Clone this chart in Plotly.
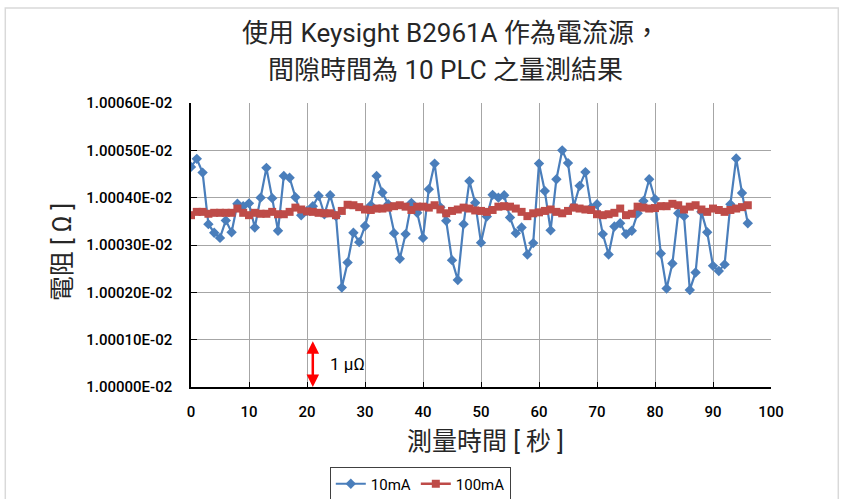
import plotly.graph_objects as go

# Measurement time [s]
time_s = list(range(97))

# Resistance, 10 mA source current (micro-ohm above 10 milliohm)
r_10ma_uohm_offset = [
    4.65, 4.82, 4.53, 3.44, 3.26, 3.15, 3.52, 3.27, 3.87, 3.82,
    3.88, 3.37, 4.00, 4.63, 3.99, 3.30, 4.46, 4.42, 4.01, 3.63,
    3.72, 3.82, 4.04, 3.65, 4.05, 3.61, 2.10, 2.63, 3.26, 3.06,
    3.40, 3.84, 4.46, 4.11, 3.86, 3.25, 2.71, 3.23, 3.89, 3.68,
    3.15, 4.18, 4.72, 3.80, 3.51, 2.68, 2.26, 3.44, 4.35, 3.89,
    3.05, 3.60, 4.06, 4.00, 4.05, 3.58, 3.25, 3.37, 2.80, 3.04,
    4.72, 4.14, 3.31, 4.39, 5.00, 4.73, 3.82, 4.25, 4.54, 3.79,
    3.86, 3.23, 2.80, 3.39, 3.46, 3.23, 3.30, 3.67, 3.93, 4.39,
    3.97, 2.82, 2.08, 2.61, 3.67, 3.61, 2.05, 2.42, 3.70, 3.27,
    2.56, 2.45, 2.59, 3.86, 4.83, 4.10, 3.46,
]

# Resistance, 100 mA source current (micro-ohm above 10 milliohm)
r_100ma_uohm_offset = [
    3.63, 3.70, 3.70, 3.66, 3.68, 3.68, 3.68, 3.68, 3.77, 3.68,
    3.63, 3.68, 3.66, 3.66, 3.70, 3.65, 3.65, 3.70, 3.79, 3.75,
    3.71, 3.70, 3.68, 3.67, 3.67, 3.63, 3.72, 3.85, 3.84, 3.80,
    3.75, 3.74, 3.77, 3.77, 3.79, 3.82, 3.84, 3.81, 3.74, 3.81,
    3.81, 3.79, 3.84, 3.75, 3.67, 3.72, 3.75, 3.79, 3.77, 3.73,
    3.72, 3.70, 3.74, 3.81, 3.82, 3.81, 3.77, 3.70, 3.61, 3.67,
    3.69, 3.72, 3.75, 3.70, 3.67, 3.72, 3.79, 3.77, 3.75, 3.74,
    3.65, 3.63, 3.65, 3.68, 3.77, 3.63, 3.66, 3.81, 3.79, 3.77,
    3.78, 3.82, 3.82, 3.87, 3.84, 3.75, 3.81, 3.84, 3.75, 3.70,
    3.77, 3.74, 3.70, 3.74, 3.77, 3.80, 3.84,
]

BASE_OHM = 1.0e-2
UOHM = 1.0e-6
r_10ma = [BASE_OHM + v * UOHM for v in r_10ma_uohm_offset]
r_100ma = [BASE_OHM + v * UOHM for v in r_100ma_uohm_offset]

y_ticks = [BASE_OHM + k * UOHM for k in range(7)]
y_tick_text = [f"{v:.5E}" for v in y_ticks]
x_ticks = list(range(0, 101, 10))

FONT = "Roboto, Noto Sans CJK TC, sans-serif"
BLUE = "#4A7EBB"
RED = "#BE4B48"

fig = go.Figure()
fig.add_trace(go.Scatter(
    x=time_s, y=r_10ma, name="10mA", mode="lines+markers",
    line=dict(color=BLUE, width=2.2),
    marker=dict(symbol="diamond", size=8, color=BLUE),
))
fig.add_trace(go.Scatter(
    x=time_s, y=r_100ma, name="100mA", mode="lines+markers",
    line=dict(color=RED, width=2.5),
    marker=dict(symbol="square", size=8, color=RED),
))

# plot-area edges in pixels
PL, PR, PT, PB = 190.7, 770.7, 103.0, 387.0
pw, ph = PR - PL, PB - PT


def px_x(p):
    return (p - PL) / pw


def px_y(p):
    return (PB - p) / ph


annotations = [
    dict(text="使用 Keysight B2961A 作為電流源，", xref="paper", yref="paper",
         x=px_x(451), y=px_y(33), xanchor="center", yanchor="middle",
         showarrow=False, font=dict(size=26, color="#262626", family=FONT)),
    dict(text="間隙時間為 10 PLC 之量測結果", xref="paper", yref="paper",
         x=px_x(445), y=px_y(70), xanchor="center", yanchor="middle",
         showarrow=False, font=dict(size=26, color="#262626", family=FONT)),
    dict(text="電阻 [ Ω ]", xref="paper", yref="paper",
         x=px_x(62), y=px_y(252), xanchor="center", yanchor="middle",
         textangle=-90, showarrow=False,
         font=dict(size=25, color="#262626", family=FONT)),
    dict(text="測量時間 [ 秒 ]", xref="paper", yref="paper",
         x=px_x(485), y=px_y(441), xanchor="center", yanchor="middle",
         showarrow=False, font=dict(size=25, color="#262626", family=FONT)),
    # 1 micro-ohm scale marker
    dict(x=21, y=BASE_OHM, ax=21, ay=BASE_OHM + UOHM, xref="x", yref="y",
         axref="x", ayref="y", text="", showarrow=True,
         arrowhead=2, startarrowhead=2, arrowside="end+start",
         arrowsize=1.0, startarrowsize=1.0, arrowwidth=2.5, arrowcolor="#FF0000"),
    dict(text="1 μΩ", x=23.6, y=BASE_OHM + 0.48 * UOHM, xref="x", yref="y",
         xanchor="left", yanchor="middle", showarrow=False,
         font=dict(size=17, color="#000000", family=FONT)),
]

fig.update_layout(
    width=852, height=499,
    margin=dict(l=PL, r=852 - PR, t=PT, b=499 - PB, autoexpand=False),
    paper_bgcolor="white", plot_bgcolor="white",
    font=dict(family=FONT, color="#000000"),
    showlegend=True,
    legend=dict(
        orientation="h", x=px_x(420), y=px_y(484),
        xanchor="center", yanchor="middle",
        bordercolor="#404040", borderwidth=1, bgcolor="white",
        font=dict(size=15, family=FONT), itemwidth=30,
        tracegroupgap=0,
    ),
    annotations=annotations,
    shapes=[
        dict(type="rect", xref="paper", yref="paper",
             x0=px_x(5), x1=px_x(838), y0=px_y(520), y1=px_y(8),
             line=dict(color="#D9D9D9", width=1.5), layer="below"),
    ],
)

fig.update_xaxes(
    range=[0, 100], tickvals=x_ticks, ticks="inside", ticklen=5,
    tickcolor="#000000", showline=True, linecolor="#000000", linewidth=1.5,
    showgrid=True, gridcolor="#A6A6A6", gridwidth=1.2, zeroline=False,
    tickfont=dict(size=15, family=FONT, color="#000000", weight=500),
    ticklabelstandoff=10,
)
fig.update_yaxes(
    range=[BASE_OHM, BASE_OHM + 6 * UOHM], tickvals=y_ticks, ticktext=y_tick_text,
    ticks="inside", ticklen=6, tickcolor="#000000",
    showline=True, linecolor="#000000", linewidth=1.5,
    showgrid=True, gridcolor="#A6A6A6", gridwidth=1.2, zeroline=False,
    tickfont=dict(size=15, family=FONT, color="#000000", weight=500),
    ticklabelstandoff=14,
)

fig.write_html("out.html")
